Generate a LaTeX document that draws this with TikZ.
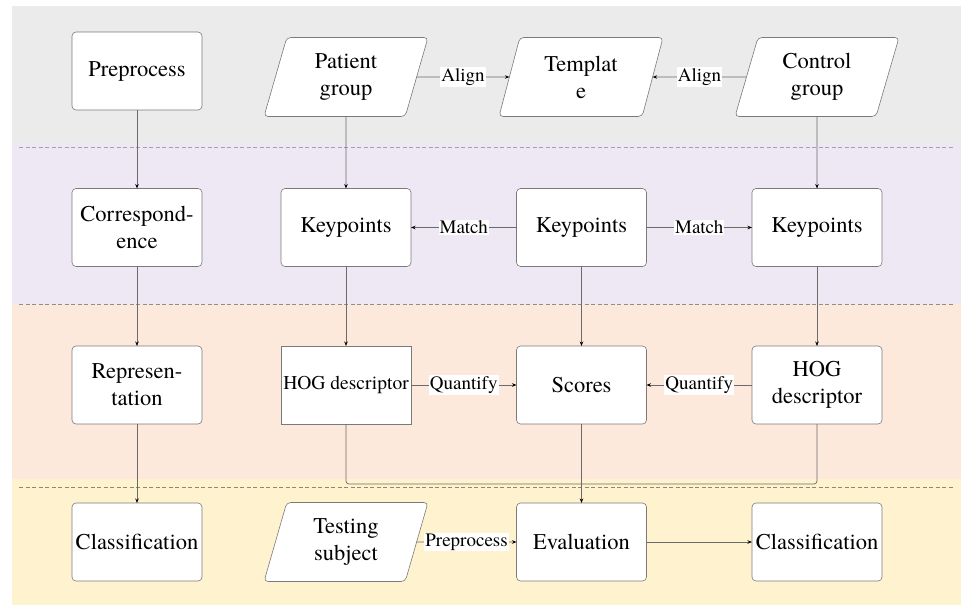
\documentclass[tikz,border=0pt]{standalone}
\usepackage{fontspec}
\setmainfont{texgyretermes}[Extension=.otf, UprightFont=*-regular, BoldFont=*-bold, ItalicFont=*-italic, BoldItalicFont=*-bolditalic]
\usetikzlibrary{shapes.geometric,arrows.meta}
\definecolor{bandgray}{HTML}{EBEBEB}
\definecolor{bandpurple}{HTML}{EDE8F3}
\definecolor{bandorange}{HTML}{FDE8DC}
\definecolor{bandyellow}{HTML}{FFF2CE}
\definecolor{linegray}{HTML}{7A7A7A}
\definecolor{connc}{HTML}{6A6A6A}
\definecolor{dashA}{HTML}{A0A0AE}
\definecolor{dashB}{HTML}{8E8E8E}
\definecolor{dashC}{HTML}{8A8A72}
\newcommand{\mainsz}{\fontsize{22.5}{27}\selectfont}
\newcommand{\lblsz}{\fontsize{19}{22}\selectfont}
\newcommand{\hogsz}{\fontsize{19.5}{23}\selectfont}
\begin{document}
\begin{tikzpicture}[x=1pt,y=-1pt,
  box/.style={draw=linegray, line width=0.6pt, fill=white, rounded corners=4pt,
    minimum width=130pt, minimum height=78pt, align=center, font=\mainsz,
    inner sep=2pt, outer sep=0pt},
  sqbox/.style={box, sharp corners, font=\hogsz},
  para/.style={trapezium, trapezium left angle=65, trapezium right angle=115,
    trapezium stretches body, draw=linegray, line width=0.6pt, fill=white,
    rounded corners=4pt, minimum width=164pt, minimum height=79pt,
    align=center, font=\mainsz, inner sep=1pt, outer sep=0pt},
  conn/.style={draw=connc, line width=0.7pt,
    -{Stealth[length=4.5pt,width=3.5pt,color=black]}},
  plain/.style={draw=connc, line width=0.7pt},
  lbl/.style={fill=white, font=\lblsz, inner sep=1pt, text=black},
  sep/.style={line width=0.8pt, dash pattern=on 4pt off 2.5pt}
]
\useasboundingbox (0,0) rectangle (961,605);
\fill[white] (0,0) rectangle (961,605);
% bands
\fill[bandgray] (12,6) rectangle (961,143);
\fill[bandpurple] (12,143) rectangle (961,304);
\fill[bandorange] (12,304) rectangle (961,479);
\fill[bandyellow] (12,479) rectangle (961,605);
\draw[sep, dashA] (19,147) -- (953,147);
\draw[sep, dashB] (19,304) -- (953,304);
\draw[sep, dashC] (19,487) -- (953,487);

% left column
\node[box] (pre) at (137,71) {Preprocess};
\node[box] (cor) at (137,227.5) {Correspond-\\ence};
\node[box] (rep) at (137,385) {Represen-\\tation};
\node[box] (clsL) at (137,542) {Classification};

% row 1
\node[para] (pg) at (346,77) {Patient\\group};
\node[para] (tm) at (581,77) {Templat\\e};
\node[para] (cg) at (817,77) {Control\\group};

% row 2
\node[box] (kpL) at (346,227.5) {Keypoints};
\node[box] (kpM) at (581.5,227.5) {Keypoints};
\node[box] (kpR) at (817,227.5) {Keypoints};

% row 3
\node[sqbox] (hogL) at (346,385) {HOG descriptor};
\node[box] (sc) at (581.5,385) {Scores};
\node[box] (hogR) at (817,385) {HOG\\descriptor};

% row 4
\node[para] (ts) at (346,542) {Testing\\subject};
\node[box] (ev) at (581.5,542) {Evaluation};
\node[box] (clsR) at (817,542) {Classification};

\coordinate (j) at (581.5,484);

% left column connectors
\draw[conn] (pre) -- (cor);
\draw[conn] (cor) -- (rep);
\draw[conn] (rep) -- (clsL);

% vertical
\draw[conn] (pg.south) -- (kpL);
\draw[conn] (kpL) -- (hogL);
\draw[conn] (cg.south) -- (kpR);
\draw[conn] (kpR) -- (hogR);
\draw[conn] (kpM) -- (sc);
\draw[conn] (sc) -- (ev);
\draw[plain, rounded corners=3pt] (hogL.south) |- (j);
\draw[plain, rounded corners=3pt] (hogR.south) |- (j);

% horizontal
\draw[conn] (pg) -- node[lbl]{Align} (tm);
\draw[conn] (cg) -- node[lbl]{Align} (tm);
\draw[conn] (kpM) -- node[lbl]{Match} (kpL);
\draw[conn] (kpM) -- node[lbl]{Match} (kpR);
\draw[conn] (hogL) -- node[lbl]{Quantify} (sc);
\draw[conn] (hogR) -- node[lbl]{Quantify} (sc);
\draw[conn] (ts) -- node[lbl]{Preprocess} (ev);
\draw[conn] (ev) -- (clsR);
\end{tikzpicture}
\end{document}
